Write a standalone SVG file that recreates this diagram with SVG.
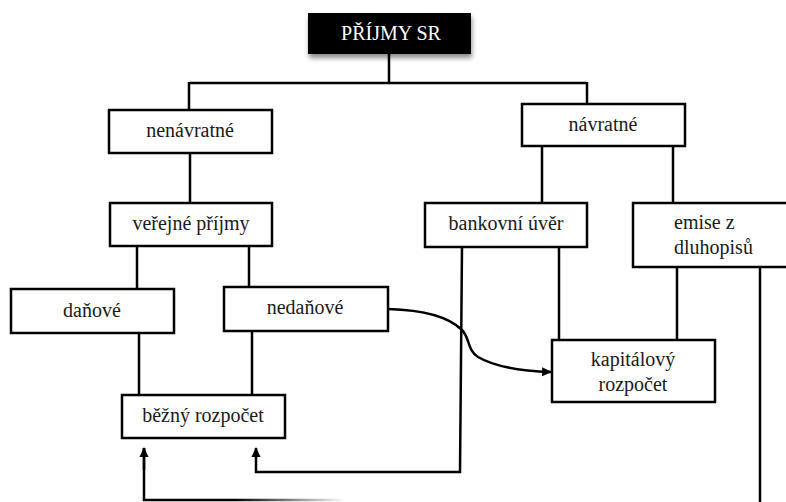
<svg xmlns="http://www.w3.org/2000/svg" width="786" height="502" viewBox="0 0 786 502">
<style>
.box{fill:#fff;stroke:#000;stroke-width:2.5}
.t{font-family:"Liberation Serif","DejaVu Serif",serif;font-size:20px;fill:#1a1a1a;text-anchor:middle}
.ln{fill:none;stroke:#000;stroke-width:2.5}
</style>
<defs>
<filter id="sh" x="-10%" y="-20%" width="120%" height="160%">
<feGaussianBlur in="SourceAlpha" stdDeviation="2.5"/>
<feOffset dx="1" dy="4" result="b"/>
<feComponentTransfer><feFuncA type="linear" slope="0.45"/></feComponentTransfer>
<feMerge><feMergeNode/><feMergeNode in="SourceGraphic"/></feMerge>
</filter>
<marker id="ah" markerWidth="10" markerHeight="10" refX="9" refY="5" orient="auto" markerUnits="userSpaceOnUse">
<path d="M0,0.5 L10,5 L0,9.5 z" fill="#000"/>
</marker>
<linearGradient id="fade" x1="144" y1="0" x2="345" y2="0" gradientUnits="userSpaceOnUse">
<stop offset="0" stop-color="#000"/>
<stop offset="0.45" stop-color="#000"/>
<stop offset="1" stop-color="#000" stop-opacity="0"/>
</linearGradient>
</defs>
<g id="connectors">
<path class="ln" d="M389,54 V83 M189,83 H587 M189,82 V110 M587,82 V104"/>
<path class="ln" d="M190,153 V203"/>
<path class="ln" d="M137,246 V290 M249,246 V287"/>
<path class="ln" d="M139,333 V395 M252,331 V395"/>
<path class="ln" d="M542,146 V203 M673,146 V204"/>
<path class="ln" d="M559,247 V340 M677,267 V340"/>
<path class="ln" d="M760,267 V502"/>
<path class="ln" d="M462,247 L460,472 H256 V448" marker-end="url(#ah)"/>
<path fill="none" stroke="url(#fade)" stroke-width="2.5" d="M345,500 H144 V448"/>
<path class="ln" d="M144,470 V448" marker-end="url(#ah)"/>
<path class="ln" d="M388,309 C425,310 450,318 462,330 C470,338 467,350 478,357 C495,367 522,371 551,372" marker-end="url(#ah)"/>
</g>
<g id="prijmy">
<rect x="308" y="13" width="163" height="41" fill="#000" filter="url(#sh)"/>
<text x="391" y="40" class="t" style="fill:#fff">PŘÍJMY SR</text>
</g>
<g id="nenavratne">
<rect class="box" x="109" y="110" width="163" height="43"/>
<text class="t" x="190" y="137">nenávratné</text>
</g>
<g id="navratne">
<rect class="box" x="522" y="104" width="163" height="42"/>
<text class="t" x="603" y="131">návratné</text>
</g>
<g id="verejne">
<rect class="box" x="110" y="203" width="162" height="43"/>
<text class="t" x="191" y="230">veřejné příjmy</text>
</g>
<g id="bankovni">
<rect class="box" x="425" y="203" width="162" height="44"/>
<text class="t" x="506" y="230">bankovní úvěr</text>
</g>
<g id="emise">
<rect class="box" x="633" y="203" width="170" height="64"/>
<text class="t" x="674" y="229" style="text-anchor:start">emise z</text>
<text class="t" x="674" y="254" style="text-anchor:start">dluhopisů</text>
</g>
<g id="danove">
<rect class="box" x="11" y="289" width="163" height="44"/>
<text class="t" x="92" y="317">daňové</text>
</g>
<g id="nedanove">
<rect class="box" x="224" y="287" width="164" height="44"/>
<text class="t" x="305" y="314">nedaňové</text>
</g>
<g id="bezny">
<rect class="box" x="122" y="395" width="163" height="43"/>
<text class="t" x="203" y="422">běžný rozpočet</text>
</g>
<g id="kapitalovy">
<rect class="box" x="552" y="340" width="163" height="62"/>
<text class="t" x="633" y="366">kapitálový</text>
<text class="t" x="633" y="391">rozpočet</text>
</g>
</svg>
